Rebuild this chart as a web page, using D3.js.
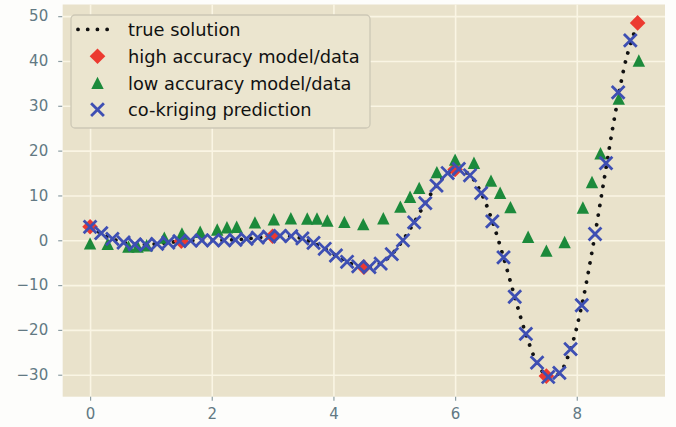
<!DOCTYPE html>
<html>
<head>
<meta charset="utf-8">
<script src="https://cdnjs.cloudflare.com/ajax/libs/d3/7.8.5/d3.min.js"></script>
<style>
body { margin: 0; background: #fdfdfb; }
svg { display: block; }
</style>
</head>
<body>
<div id="chart"></div>
<script>
// true solution, sampled on an even grid
var trueX = [0, 0.184, 0.367, 0.551, 0.735, 0.918, 1.102, 1.286, 1.469, 1.653,
    1.837, 2.020, 2.204, 2.388, 2.571, 2.755, 2.939, 3.122, 3.306, 3.490,
    3.673, 3.857, 4.041, 4.224, 4.408, 4.592, 4.776, 4.959, 5.143, 5.327,
    5.510, 5.694, 5.878, 6.061, 6.245, 6.429, 6.612, 6.796, 6.980, 7.163,
    7.347, 7.531, 7.714, 7.898, 8.082, 8.265, 8.449, 8.633, 8.816, 9.0];
var trueY = [3.03, 1.56, 0.33, -0.51, -0.92, -0.97, -0.79, -0.51, -0.25, -0.08,
    -0.01, 0.0, 0.02, 0.11, 0.30, 0.57, 0.84, 0.98, 0.86, 0.36,
    -0.57, -1.87, -3.36, -4.78, -5.77, -5.99, -5.15, -3.12, 0.03, 4.00,
    8.28, 12.19, 14.96, 15.91, 14.51, 10.55, 4.24, -3.82, -12.63, -20.91,
    -27.30, -30.52, -29.64, -24.26, -14.50, -1.41, 13.54, 28.31, 40.68, 48.54];

var predX = [0, 0.184, 0.367, 0.551, 0.735, 0.918, 1.102, 1.286, 1.469, 1.653,
    1.837, 2.020, 2.204, 2.388, 2.571, 2.755, 2.939, 3.122, 3.306, 3.490,
    3.673, 3.857, 4.041, 4.224, 4.408, 4.592, 4.776, 4.959, 5.143, 5.327,
    5.510, 5.694, 5.878, 6.061, 6.245, 6.429, 6.612, 6.796, 6.980, 7.163,
    7.347, 7.531, 7.714, 7.898, 8.082, 8.30, 8.48, 8.68, 8.88];
var predY = [3.0, 1.6, 0.3, -0.5, -0.9, -1.0, -0.8, -0.5, -0.2, -0.1,
    0.0, 0.0, 0.0, 0.1, 0.3, 0.6, 0.8, 1.0, 0.9, 0.4,
    -0.6, -1.9, -3.4, -4.8, -5.8, -6.0, -5.2, -3.1, 0.0, 4.0,
    8.3, 12.2, 15.0, 15.9, 14.5, 10.5, 4.2, -3.8, -12.6, -20.9,
    -27.3, -30.5, -29.6, -24.3, -14.5, 1.4, 17.2, 33.0, 44.6];

var highX = [0, 1.5, 3, 4.5, 6, 7.5, 9];
var highY = [3.0, -0.2, 0.9, -6.0, 15.8, -30.3, 48.5];

var lowX = [0, 0.29, 0.63, 0.78, 0.93, 1.22, 1.51, 1.81, 2.09, 2.25,
    2.41, 2.71, 3.02, 3.30, 3.57, 3.73, 3.90, 4.18, 4.49, 4.82,
    5.10, 5.26, 5.41, 5.70, 6.00, 6.31, 6.59, 6.74, 6.91, 7.20,
    7.50, 7.80, 8.10, 8.25, 8.39, 8.69, 9.02];
var lowY = [-0.7, -0.8, -1.4, -1.4, -1.1, 0.6, 1.5, 1.9, 2.4, 2.9,
    3.0, 4.0, 4.7, 4.9, 4.85, 4.85, 4.4, 4.1, 3.6, 4.9,
    7.5, 9.7, 11.7, 15.2, 18.0, 17.3, 13.3, 10.6, 7.4, 0.8,
    -2.3, -0.4, 7.3, 13.0, 19.4, 31.6, 40.1];

var xTicks = [0, 2, 4, 6, 8];
var yTicks = [-30, -20, -10, 0, 10, 20, 30, 40, 50];
var legendLabels = ['true solution', 'high accuracy model/data',
    'low accuracy model/data', 'co-kriging prediction'];

var W = 676, H = 427,
    plotLeft = 62.7, plotRight = 665, plotTop = 4.5, plotBottom = 396.7,
    red = '#ec3a30', green = '#1c8a3b', blue = '#3e4fb3',
    tickColor = '#627983';

var x = d3.scaleLinear().domain([-0.45, 9.45]).range([plotLeft, plotRight]);
var y = d3.scaleLinear().domain([-34.9, 52.6]).range([plotBottom, plotTop]);

var svg = d3.select('#chart')
    .append('svg')
    .attr('width', W)
    .attr('height', H);

svg.append('rect')
    .attr('width', W)
    .attr('height', H)
    .style('fill', '#fdfdfb');

svg.append('rect')
    .attr('x', plotLeft)
    .attr('y', plotTop)
    .attr('width', plotRight - plotLeft)
    .attr('height', plotBottom - plotTop)
    .style('fill', '#e9e2cb');

// grid
svg.append('g')
    .attr('transform', 'translate(0,' + plotBottom + ')')
    .call(d3.axisBottom(x).tickValues(xTicks).tickSize(-(plotBottom - plotTop)).tickFormat(''))
    .call(function (g) { g.select('.domain').remove(); })
    .selectAll('line')
    .style('stroke', '#faf5e4')
    .style('stroke-width', 1.6);
svg.append('g')
    .attr('transform', 'translate(' + plotLeft + ',0)')
    .call(d3.axisLeft(y).tickValues(yTicks).tickSize(-(plotRight - plotLeft)).tickFormat(''))
    .call(function (g) { g.select('.domain').remove(); })
    .selectAll('line')
    .style('stroke', '#faf5e4')
    .style('stroke-width', 1.6);

// axes
var xAxis = svg.append('g')
    .attr('transform', 'translate(0,' + plotBottom + ')')
    .call(d3.axisBottom(x).tickValues(xTicks).tickSize(4).tickPadding(7.5));
var yAxis = svg.append('g')
    .attr('transform', 'translate(' + (plotLeft - 0.5) + ',0)')
    .call(d3.axisLeft(y).tickValues(yTicks).tickSize(4).tickPadding(10));
[xAxis, yAxis].forEach(function (a) {
    a.select('.domain').remove();
    a.selectAll('line').style('stroke', '#8d9ea3').style('stroke-width', 1.2);
    a.selectAll('text')
        .style('font-family', 'DejaVu Sans')
        .style('font-size', '15px')
        .style('fill', tickColor);
});

function addDotted(parent, d) {
    return parent.append('path')
        .attr('d', d)
        .style('fill', 'none')
        .style('stroke', '#111')
        .style('stroke-width', 3.8)
        .style('stroke-linecap', 'round')
        .style('stroke-dasharray', '0.01 9.7');
}

function addDiamond(parent, cx, cy) {
    var s = 7.8;
    parent.append('path')
        .attr('d', 'M' + cx + ',' + (cy - s) + 'L' + (cx + s) + ',' + cy +
            'L' + cx + ',' + (cy + s) + 'L' + (cx - s) + ',' + cy + 'Z')
        .style('fill', red);
}

function addTriangle(parent, cx, cy) {
    var s = 6.2;
    parent.append('path')
        .attr('d', 'M' + cx + ',' + (cy - s) + 'L' + (cx + s) + ',' + (cy + s) +
            'L' + (cx - s) + ',' + (cy + s) + 'Z')
        .style('fill', green);
}

function addCross(parent, cx, cy) {
    var s = 6.4;
    parent.append('path')
        .attr('d', 'M' + (cx - s) + ',' + (cy - s) + 'L' + (cx + s) + ',' + (cy + s) +
            'M' + (cx - s) + ',' + (cy + s) + 'L' + (cx + s) + ',' + (cy - s))
        .style('fill', 'none')
        .style('stroke', blue)
        .style('stroke-width', 2.8);
}

var line = d3.line()
    .x(function (d) { return x(d[0]); })
    .y(function (d) { return y(d[1]); })
    .curve(d3.curveCatmullRom);

var marks = svg.append('g');
addDotted(marks, line(d3.zip(trueX, trueY)));

var p;
for (p = 0; p < highX.length; p += 1) {
    addDiamond(marks, x(highX[p]), y(highY[p]));
}
for (p = 0; p < lowX.length; p += 1) {
    addTriangle(marks, x(lowX[p]), y(lowY[p]));
}
for (p = 0; p < predX.length; p += 1) {
    addCross(marks, x(predX[p]), y(predY[p]));
}

// legend
var legend = svg.append('g');
legend.append('rect')
    .attr('x', 71)
    .attr('y', 15)
    .attr('width', 299)
    .attr('height', 113)
    .attr('rx', 4)
    .style('fill', '#ebe5cf')
    .style('stroke', '#cdc8b6')
    .style('stroke-width', 1.3);

var rowY = [29.4, 56.2, 82.9, 109.6];
addDotted(legend, 'M78,' + rowY[0] + 'L108,' + rowY[0]);
addDiamond(legend, 97.5, rowY[1]);
addTriangle(legend, 97.5, rowY[2]);
addCross(legend, 97.5, rowY[3]);

legend.selectAll('text.label')
    .data(legendLabels)
    .enter().append('text')
    .attr('class', 'label')
    .attr('x', 128)
    .attr('y', function (d, i) { return rowY[i] + 6.6; })
    .style('font-family', 'DejaVu Sans')
    .style('font-size', '17.8px')
    .style('fill', '#111')
    .text(function (d) { return d; });
</script>
</body>
</html>
